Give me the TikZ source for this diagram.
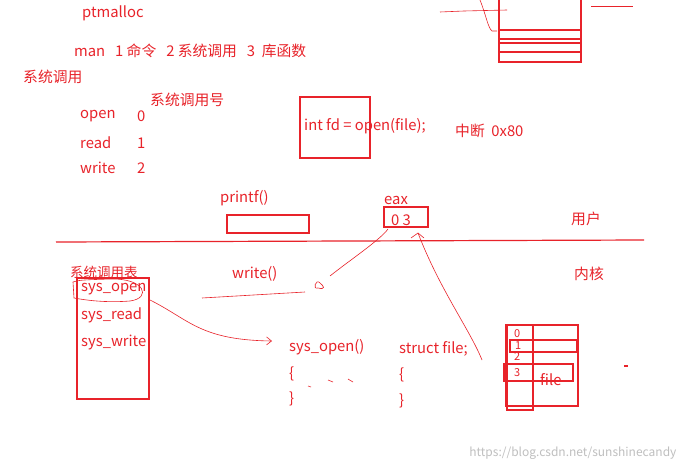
\documentclass[tikz,border=0pt]{standalone}
\usepackage{fontspec}
\setmainfont{Noto Sans CJK SC}
\usetikzlibrary{arrows.meta}
\definecolor{pen}{HTML}{E8232A}
\begin{document}
\begin{tikzpicture}[x=1pt,y=-1pt,
  lbl/.style={anchor=west,inner sep=0pt,yshift=-2pt,text=pen,font=\fontsize{14.8}{16}\selectfont},
  ink/.style={draw=pen,line width=1.2pt},
  bx/.style={draw=pen,line width=1.2pt,inner sep=0pt,minimum width=#1},
  thin/.style={draw=pen,line width=0.6pt}]
\useasboundingbox[fill=white] (0,0) rectangle (685,471);
% top texts
\node[lbl] (pt) at (82,11) {ptmalloc};
\node[lbl] (man) at (74,49) {man\ \ \ 1 命令\ \ \ 2 系统调用\ \ \ 3\ \ 库函数};
\node[lbl] (sc) at (23,75) {系统调用};
\node[lbl] (scn) at (150,98) {系统调用号};
\node[lbl] (o) at (80,114) {open};  \node[lbl] (o0) at (137,114) {0};
\node[lbl] (r) at (80,141) {read};  \node[lbl] (r1) at (137,141) {1};
\node[lbl] (w) at (80,166) {write}; \node[lbl] (w2) at (137,166) {2};
\node[bx=70pt,minimum height=61pt] (fdbox) at (335,127.5) {};
\node[lbl] (fd) at (304,124) {int fd = open(file);};
\node[lbl] (irq) at (455,129) {中断\ \ 0x80};
\node[lbl] (pf) at (220,196) {printf()};
\node[bx=82pt,minimum height=18pt] (pfbox) at (268,224) {};
\node[lbl] (eax) at (384,198) {eax};
\node[bx=44pt,minimum height=20pt] (eaxbox) at (406,217) {};
\node[lbl] (eaxv) at (391,218) {0 3};
\node[lbl] (user) at (571,217) {用户};
\coordinate (l1) at (56,242); \coordinate (l2) at (644,240);
\draw[ink] (l1) -- (l2);
\node[lbl,font=\fontsize{13.5}{15}\selectfont] (tbl) at (70,270) {系统调用表};
\node[lbl] (wr) at (232,272) {write()};
\node[lbl] (kern) at (574,272) {内核};
\node[bx=72pt,minimum height=121pt] (tblbox) at (113,338.5) {};
\node[lbl] (so) at (81,287) {sys\_open};
\node[lbl] (sr) at (81,313) {sys\_read};
\node[lbl] (sw) at (81,340) {sys\_write};
\draw[thin] (110,279) .. controls (145,278) and (152,298) .. (130,301) .. controls (105,303) and (85,300) .. (74,298) -- (73,282) .. controls (80,280) .. (110,279);
\node[lbl] (sop) at (289,345) {sys\_open()};
\node[lbl] (b1) at (289,372) {\{};
\node[lbl] (b2) at (289,397) {\}};
\node[lbl] (sf) at (399,347) {struct file;};
\node[lbl] (c1) at (399,373) {\{};
\node[lbl] (c2) at (399,399) {\}};
\coordinate (arrEnd) at (272,341);
\draw[thin,-{Straight Barb[length=5pt,width=8pt]}] (150,300) .. controls (190,320) and (200,340) .. (arrEnd);
\draw[thin] (202,298) -- (305,292);
\draw[thin] (318,288) .. controls (312,290) and (316,278) .. (320,283) .. controls (324,286) and (326,290) .. (318,288);
\draw[thin] (330,276) .. controls (350,260) and (380,240) .. (388,229);
\draw[thin] (411,238) -- (418,233) -- (424,238);
\draw[thin] (418,233) .. controls (440,290) and (470,330) .. (482,360);
\draw[thin] (308,386) -- (311,387) (328,380) -- (333,382) (348,379) -- (353,382);
% file table
\draw[ink] (506,325) rectangle (578,406);
\draw[ink] (507,325) -- (507,410) -- (533,410) -- (533,325);
\draw[ink] (510,340) rectangle (577,352);
\draw[ink] (504,364) rectangle (573,381);
\draw[pen,line width=3pt] (505,363) -- (505,381);
\node[lbl,font=\fontsize{11}{12}\selectfont] (d0) at (514,332) {0};
\node[lbl,font=\fontsize{11}{12}\selectfont] (d1) at (515,344) {1};
\node[lbl,font=\fontsize{11}{12}\selectfont] (d2) at (514,355) {2};
\node[lbl,font=\fontsize{11}{12}\selectfont] (d3) at (514,371) {3};
\node[lbl] (file) at (540,378) {file};
\draw[pen,line width=1.5pt] (624,366) -- (628,366);
% top right
\draw[ink] (499,0) -- (499,62) -- (581,62) -- (581,0);
\draw[ink] (499,30) -- (581,30) (499,39) -- (581,39) (499,43) -- (581,43) (499,52) -- (581,52);
\draw[thin] (440,12) -- (464,11) -- (507,10);
\draw[thin] (480,0) .. controls (486,15) and (488,28) .. (492,31) -- (497,31);
\draw[thin] (591,6) -- (633,6);
\node[anchor=east,text=gray!50,font=\fontsize{12}{13}\selectfont] (wm) at (680,453) {https://blog.csdn.net/sunshinecandy};
\end{tikzpicture}
\end{document}
